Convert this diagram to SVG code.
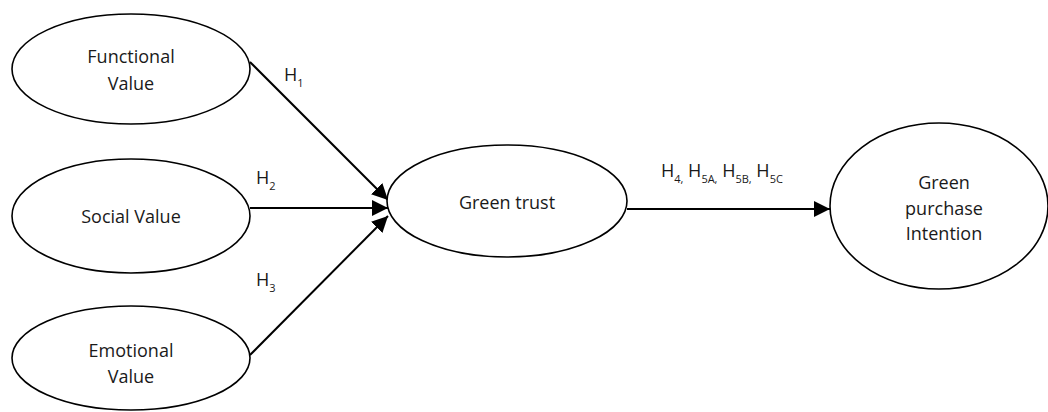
<svg xmlns="http://www.w3.org/2000/svg" width="1048" height="412" viewBox="0 0 1048 412">
  <style>
    .node ellipse { fill: #ffffff; stroke: #000000; stroke-width: 1.6; }
    .label { font-family: "Open Sans", "Liberation Sans", sans-serif; font-size: 18px; fill: #1a1a1a; text-anchor: middle; }
    .hyp { font-family: "Open Sans", "Liberation Sans", sans-serif; font-size: 18px; fill: #1a1a1a; }
    .sub { font-size: 11px; }
    .edge { stroke: #000000; stroke-width: 2; fill: none; marker-end: url(#arrow); }
  </style>
  <defs>
    <marker id="arrow" viewBox="0 0 10 10" refX="10" refY="5" markerWidth="8" markerHeight="8" markerUnits="strokeWidth" orient="auto">
      <path d="M0,0 L10,5 L0,10 Z" fill="#000000"/>
    </marker>
  </defs>

  <rect width="1048" height="412" fill="#ffffff"/>

  <!-- connectors -->
  <g id="connectors">
    <line class="edge" x1="250" y1="62" x2="388" y2="200"/>
    <line class="edge" x1="250" y1="208" x2="388" y2="208"/>
    <line class="edge" x1="250" y1="355" x2="388" y2="216"/>
    <line class="edge" x1="627" y1="209" x2="830" y2="209"/>
  </g>

  <!-- hypothesis labels -->
  <g id="edge-labels">
    <text class="hyp" x="284" y="81">H<tspan class="sub" dy="6">1</tspan></text>
    <text class="hyp" x="256" y="184">H<tspan class="sub" dy="6">2</tspan></text>
    <text class="hyp" x="256" y="286">H<tspan class="sub" dy="6">3</tspan></text>
    <text class="hyp" x="661" y="177">H<tspan class="sub" dy="6">4,</tspan><tspan dy="-6"> H</tspan><tspan class="sub" dy="6">5A,</tspan><tspan dy="-6"> H</tspan><tspan class="sub" dy="6">5B,</tspan><tspan dy="-6"> H</tspan><tspan class="sub" dy="6">5C</tspan></text>
  </g>

  <g id="functional-value" class="node">
    <ellipse cx="131" cy="69" rx="119" ry="55"/>
    <text class="label" x="131" y="63">Functional</text>
    <text class="label" x="131" y="90">Value</text>
  </g>

  <g id="social-value" class="node">
    <ellipse cx="131" cy="216" rx="119" ry="57"/>
    <text class="label" x="131" y="223">Social Value</text>
  </g>

  <g id="emotional-value" class="node">
    <ellipse cx="131" cy="358" rx="119" ry="52"/>
    <text class="label" x="131" y="357">Emotional</text>
    <text class="label" x="131" y="383">Value</text>
  </g>

  <g id="green-trust" class="node">
    <ellipse cx="507" cy="201" rx="120" ry="56"/>
    <text class="label" x="507" y="209">Green trust</text>
  </g>

  <g id="green-purchase-intention" class="node">
    <ellipse cx="939" cy="206" rx="109" ry="83"/>
    <text class="label" x="944" y="189">Green</text>
    <text class="label" x="944" y="215">purchase</text>
    <text class="label" x="944" y="240">Intention</text>
  </g>
</svg>
